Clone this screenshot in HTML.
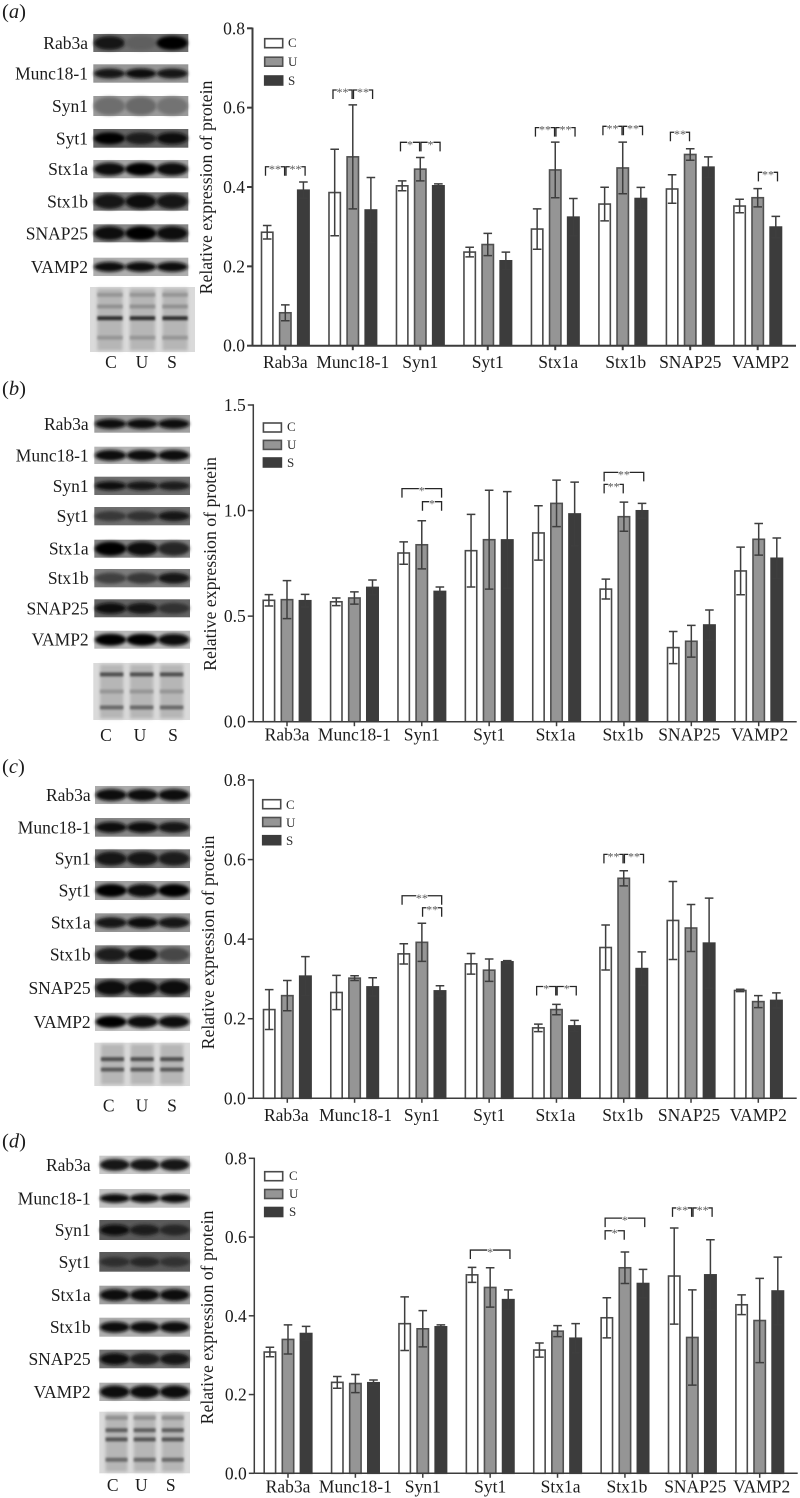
<!DOCTYPE html>
<html lang="en">
<head>
<meta charset="utf-8">
<title>Relative expression of synaptic proteins</title>
<style>
  html, body { margin: 0; padding: 0; background: #fff; }
  #figure { display: block; filter: blur(0.3px); }
  text { font-family: "Liberation Serif", serif; fill: #1c1c1c; }
  .lbl { font-size: 17.5px; }
  .ttl { font-size: 17.8px; }
  .let { font-size: 20.5px; }
  .lg { font-size: 13px; fill: #2c2c2c; }
  .c { fill: #fff; stroke: #4a4a4a; stroke-width: 1.6; }
  .u { fill: #959595; stroke: #505050; stroke-width: 1.6; }
  .s { fill: #3c3c3c; stroke: #3c3c3c; stroke-width: 1.6; }
</style>
</head>
<body>
<svg id="figure" xmlns="http://www.w3.org/2000/svg" width="800" height="1498" viewBox="0 0 800 1498">
  <defs>
    <filter id="band-blur" x="-30%" y="-80%" width="160%" height="260%"><feGaussianBlur stdDeviation="1.5"/></filter>
    <filter id="gel-blur" x="-20%" y="-100%" width="140%" height="300%"><feGaussianBlur stdDeviation="1.1"/></filter>
    <filter id="lane-blur" x="-20%" y="-10%" width="140%" height="120%"><feGaussianBlur stdDeviation="1.6"/></filter>
  </defs>
  <rect width="800" height="1498" fill="#fff"/>

  <g id="panel-a">
    <text class="let" x="2" y="18">(<tspan font-style="italic">a</tspan>)</text>
    <text class="ttl" text-anchor="middle" transform="translate(212 187.5) rotate(-90)">Relative expression of protein</text>
    <rect class="c" x="264.7" y="38.7" width="18" height="9"/>
    <text class="lg" x="288" y="47">C</text>
    <rect class="u" x="264.7" y="57.2" width="18" height="9"/>
    <text class="lg" x="288" y="66">U</text>
    <rect class="s" x="264.7" y="76" width="18" height="9"/>
    <text class="lg" x="288" y="85">S</text>
  </g>

  <g id="panel-b">
    <text class="let" x="2" y="395">(<tspan font-style="italic">b</tspan>)</text>
    <text class="ttl" text-anchor="middle" transform="translate(216 564) rotate(-90)">Relative expression of protein</text>
    <rect class="c" x="263.4" y="423" width="18" height="9"/>
    <text class="lg" x="287" y="431">C</text>
    <rect class="u" x="263.4" y="440.4" width="18" height="9"/>
    <text class="lg" x="287" y="449">U</text>
    <rect class="s" x="263.4" y="458" width="18" height="9"/>
    <text class="lg" x="287" y="467">S</text>
  </g>

  <g id="panel-c">
    <text class="let" x="2" y="773">(<tspan font-style="italic">c</tspan>)</text>
    <text class="ttl" text-anchor="middle" transform="translate(214 942.5) rotate(-90)">Relative expression of protein</text>
    <rect class="c" x="262.7" y="799.7" width="18" height="9"/>
    <text class="lg" x="286" y="809">C</text>
    <rect class="u" x="262.7" y="817.5" width="18" height="9"/>
    <text class="lg" x="286" y="827">U</text>
    <rect class="s" x="262.7" y="835.7" width="18" height="9"/>
    <text class="lg" x="286" y="845">S</text>
  </g>

  <g id="panel-d">
    <text class="let" x="2" y="1147.7">(<tspan font-style="italic">d</tspan>)</text>
    <text class="ttl" text-anchor="middle" transform="translate(213 1317.5) rotate(-90)">Relative expression of protein</text>
    <rect class="c" x="264.7" y="1171.7" width="18" height="9"/>
    <text class="lg" x="289" y="1180">C</text>
    <rect class="u" x="264.7" y="1189.5" width="18" height="9"/>
    <text class="lg" x="289" y="1198">U</text>
    <rect class="s" x="264.7" y="1207.5" width="18" height="9"/>
    <text class="lg" x="289" y="1216">S</text>
  </g>
</svg>

<script>
// ---- shared labels ----
const categories = ['Rab3a', 'Munc18-1', 'Syn1', 'Syt1', 'Stx1a', 'Stx1b', 'SNAP25', 'VAMP2'];
const seriesNames = ['C', 'U', 'S'];
const laneLabels = ['C', 'U', 'S'];
const tickLabelsA = ['0.0', '0.2', '0.4', '0.6', '0.8'];
const tickLabelsB = ['0.0', '0.5', '1.0', '1.5'];
const tickLabelsC = ['0.0', '0.2', '0.4', '0.6', '0.8'];
const tickLabelsD = ['0.0', '0.2', '0.4', '0.6', '0.8'];

// ---- panel a ----
const aControl  = [0.286, 0.386, 0.403, 0.236, 0.294, 0.357, 0.395, 0.352];
const aControlE = [0.017, 0.109, 0.0125, 0.012, 0.051, 0.0425, 0.036, 0.017];
const aUltra    = [0.083, 0.476, 0.445, 0.255, 0.443, 0.448, 0.482, 0.373];
const aUltraE   = [0.020, 0.131, 0.0295, 0.028, 0.070, 0.065, 0.0145, 0.023];
const aStim     = [0.392, 0.342, 0.403, 0.214, 0.324, 0.371, 0.450, 0.299];
const aStimE    = [0.0205, 0.082, 0.005, 0.022, 0.047, 0.028, 0.026, 0.027];
const aBrackets = [[0,0,1,0.451,'**'],[0,1,2,0.451,'**'],[1,0,1,0.6445,'**'],[1,1,2,0.6445,'**'],
  [2,0,1,0.5126,'*'],[2,1,2,0.5126,'*'],[4,0,1,0.5496,'**'],[4,1,2,0.5496,'**'],
  [5,0,1,0.553,'**'],[5,1,2,0.553,'**'],[6,0,1,0.538,'**'],[7,1,2,0.437,'**']];

// ---- panel b ----
const bControl  = [0.575, 0.568, 0.799, 0.810, 0.894, 0.628, 0.351, 0.714];
const bControlE = [0.027, 0.018, 0.053, 0.172, 0.129, 0.047, 0.076, 0.113];
const bUltra    = [0.578, 0.586, 0.838, 0.862, 1.034, 0.971, 0.381, 0.864];
const bUltraE   = [0.090, 0.029, 0.114, 0.234, 0.110, 0.069, 0.075, 0.075];
const bStim     = [0.573, 0.636, 0.617, 0.861, 0.984, 0.999, 0.458, 0.774];
const bStimE    = [0.030, 0.035, 0.021, 0.229, 0.151, 0.035, 0.071, 0.096];
const bBrackets = [[2,0,2,1.104,'*'],[2,1,2,1.042,'*'],[5,0,2,1.181,'**'],[5,0,1,1.124,'**']];

// ---- panel c ----
const cControl  = [0.223, 0.266, 0.363, 0.338, 0.177, 0.379, 0.447, 0.271];
const cControlE = [0.050, 0.043, 0.0255, 0.026, 0.0095, 0.0565, 0.098, 0.003];
const cUltra    = [0.258, 0.302, 0.392, 0.322, 0.223, 0.553, 0.428, 0.243];
const cUltraE   = [0.038, 0.006, 0.048, 0.028, 0.013, 0.019, 0.059, 0.015];
const cStim     = [0.307, 0.280, 0.270, 0.343, 0.182, 0.326, 0.390, 0.246];
const cStimE    = [0.049, 0.023, 0.013, 0.003, 0.014, 0.042, 0.113, 0.019];
const cBrackets = [[2,0,2,0.509,'**'],[2,1,2,0.479,'**'],[4,0,1,0.281,'*'],[4,1,2,0.281,'*'],
  [5,0,1,0.613,'**'],[5,1,2,0.613,'**']];

// ---- panel d ----
const dControl  = [0.308, 0.231, 0.380, 0.504, 0.313, 0.395, 0.501, 0.428];
const dControlE = [0.012, 0.015, 0.068, 0.019, 0.018, 0.051, 0.122, 0.025];
const dUltra    = [0.340, 0.228, 0.367, 0.472, 0.361, 0.522, 0.345, 0.388];
const dUltraE   = [0.037, 0.023, 0.046, 0.050, 0.014, 0.040, 0.121, 0.107];
const dStim     = [0.355, 0.230, 0.372, 0.441, 0.343, 0.482, 0.504, 0.463];
const dStimE    = [0.018, 0.007, 0.005, 0.025, 0.037, 0.036, 0.089, 0.086];
const dBrackets = [[3,0,2,0.567,'*'],[5,0,2,0.648,'*'],[5,0,1,0.616,'*'],[6,0,1,0.674,'**'],[6,1,2,0.674,'**']];

// ---- blot appearance: background gray, lane band grays, band thickness ----
const aBlotTones = [[110,25,95,5,14],[150,20,10,20,10],[155,110,105,115,18],[100,5,30,15,12],[165,10,5,10,13],[125,20,10,20,15],[135,10,5,10,14],[175,8,8,12,10]];
const bBlotTones = [[160,8,12,8,10],[180,12,12,12,11],[110,15,20,30,9],[110,55,50,25,10],[130,5,10,40,14],[125,65,55,25,11],[100,8,25,50,11],[185,5,5,8,12]];
const cBlotTones = [[170,8,8,12,12],[135,12,8,18,11],[120,25,20,28,14],[160,5,8,5,13],[150,18,8,18,11],[135,30,8,70,14],[125,15,12,12,15],[195,5,8,8,12]];
const dBlotTones = [[200,20,20,20,12],[195,8,8,8,9],[90,15,30,40,11],[90,45,40,50,10],[160,8,8,8,12],[175,8,8,8,11],[115,8,30,25,12],[175,8,8,8,13]];
const aGelBands = [[0.12,150],[0.3,145],[0.48,45],[0.78,150]];
const bGelBands = [[0.2,80],[0.5,150],[0.78,105]];
const cGelBands = [[0.38,80],[0.62,90]];
const dGelBands = [[0.1,145],[0.3,95],[0.45,85],[0.78,105]];

// ---- layout (not data) ----
const panels = [
  { id:'a', series:[aControl,aUltra,aStim], errors:[aControlE,aUltraE,aStimE], brackets:aBrackets, ticks:tickLabelsA, tones:aBlotTones, gel:aGelBands,
    axisX:252.5, y0:345.7, yTop:28.3, right:796, firstU:285.3, lastU:757.7, axisW:2, xBase:368, nudge:[0,0,0,0,3,3,0,3],
    blotL:93.3, blotR:188.3, labelR:88, rows:[[34,52],[64.3,82.7],[96,116],[129,147.7],[160,178.3],[192.3,210.7],[224.3,242.3],[257.7,276]],
    gelBox:[90,287,105,65], laneX:[111,142,172], laneBase:368 },
  { id:'b', series:[bControl,bUltra,bStim], errors:[bControlE,bUltraE,bStimE], brackets:bBrackets, ticks:tickLabelsB, tones:bBlotTones, gel:bGelBands,
    axisX:253.3, y0:721.7, yTop:405, right:796.7, firstU:287, lastU:758.7, axisW:1.5, xBase:740.7, nudge:[0,0,0,0,-1,-1,-2,1],
    blotL:94.3, blotR:190, labelR:88.7, rows:[[415,432.7],[446.7,464],[476.7,495],[507,525.3],[539.7,557.7],[569,587.3],[599.3,617.3],[630.7,648.7]],
    gelBox:[93.3,663,96.7,57], laneX:[106,140,173], laneBase:741 },
  { id:'c', series:[cControl,cUltra,cStim], errors:[cControlE,cUltraE,cStimE], brackets:cBrackets, ticks:tickLabelsC, tones:cBlotTones, gel:cGelBands,
    axisX:253.3, y0:1098.3, yTop:780, right:796.7, firstU:287.3, lastU:758.3, axisW:1.5, xBase:1121, nudge:[-1,1,0,0,-1,-1,-2,0],
    blotL:95, blotR:190, labelR:90.7, rows:[[786,804],[818,836.7],[849.3,868],[881,900],[913.3,932],[945.3,964],[978.3,997.3],[1012.7,1031]],
    gelBox:[94.3,1042.7,95.7,43.3], laneX:[108.7,142,172], laneBase:1111.7 },
  { id:'d', series:[dControl,dUltra,dStim], errors:[dControlE,dUltraE,dStimE], brackets:dBrackets, ticks:tickLabelsD, tones:dBlotTones, gel:dGelBands,
    axisX:254.3, y0:1473.3, yTop:1158.3, right:797.7, firstU:288, lastU:759.7, axisW:1.5, xBase:1492.7, nudge:[0,0,0,0,3,2,3,2],
    blotL:99.3, blotR:190, labelR:90.7, rows:[[1155.7,1174],[1189,1207.7],[1220,1240],[1252,1271.7],[1285.7,1304.3],[1317.7,1336.7],[1349.7,1368.3],[1382.7,1401]],
    gelBox:[99.3,1411.7,90.7,61.6], laneX:[112.7,141.3,170.7], laneBase:1491 }
];

const NS = 'http://www.w3.org/2000/svg';
function add(tag, attrs, parent, content) {
  const el = document.createElementNS(NS, tag);
  for (const k in attrs) el.setAttribute(k, attrs[k]);
  if (content !== undefined) el.textContent = content;
  parent.appendChild(el);
  return el;
}
function gray(v) { return 'rgb(' + v + ',' + v + ',' + v + ')'; }

const GAP = 18.1, BAR_W = 11.4, CAP = 4.3, INK = '#3e3e3e';
const classes = ['c', 'u', 's'];

panels.forEach(function (p) {
  const root = document.getElementById('panel-' + p.id);
  const step = (p.lastU - p.firstU) / (categories.length - 1);
  const maxV = parseFloat(p.ticks[p.ticks.length - 1]);
  const yScale = function (v) { return p.y0 - (v / maxV) * (p.y0 - p.yTop); };
  const xGroup = function (g) { return p.firstU + g * step; };
  const xBar = function (g, s) { return xGroup(g) + (s - 1) * GAP; };

  // Blot strips
  const bw = p.blotR - p.blotL;
  categories.forEach(function (cat, r) {
    const top = p.rows[r][0], bot = p.rows[r][1], tone = p.tones[r];
    const bg = add('rect', { x: p.blotL, y: top, width: bw, height: bot - top, fill: gray(tone[0]) }, root);
    
    
    [0, 1, 2].forEach(function (lane) {
      const band = add('ellipse', { cx: p.blotL + bw * (0.17 + lane * 0.33), cy: (top + bot) / 2, rx: bw * 0.165, ry: tone[4] / 2, fill: gray(tone[lane + 1]), filter: 'url(#band-blur)' }, root);
      
      
    });
    const lab = add('text', { x: p.labelR, y: (top + bot) / 2 + 6, 'text-anchor': 'end', class: 'lbl' }, root, cat);
    
    
  });

  // Loading-control gel
  const gb = p.gelBox;
  const gelBg = add('rect', { x: gb[0], y: gb[1], width: gb[2], height: gb[3], fill: gray(218) }, root);
  
  
  [0, 1, 2].forEach(function (lane) {
    const lx = gb[0] + gb[2] * (0.07 + lane * 0.31);
    const lw = gb[2] * 0.24;
    const ln = add('rect', { x: lx, y: gb[1] + 1.5, width: lw, height: gb[3] - 3, fill: gray(182), filter: 'url(#lane-blur)' }, root);
    
    
    p.gel.forEach(function (b, bi) {
      const gbEl = add('rect', { x: lx, y: gb[1] + gb[3] * b[0] - 2, width: lw, height: 4, fill: gray(b[1]), filter: 'url(#gel-blur)' }, root);
      
      
    });
    const ll = add('text', { x: p.laneX[lane], y: p.laneBase, 'text-anchor': 'middle', class: 'lbl' }, root, laneLabels[lane]);
    
    
  });

  // Bars and error bars
  categories.forEach(function (cat, g) {
    seriesNames.forEach(function (name, s) {
      const v = p.series[s][g], e = p.errors[s][g], cx = xBar(g, s);
      const bar = add('rect', { x: cx - BAR_W / 2, y: yScale(v), width: BAR_W, height: p.y0 - yScale(v), class: classes[s] }, root);
      
      
      const hi = yScale(v + e), lo = yScale(v - e);
      const errEl = add('path', { d: 'M' + (cx - CAP) + ' ' + hi + 'H' + (cx + CAP) + 'M' + cx + ' ' + hi + 'V' + lo + 'M' + (cx - CAP) + ' ' + lo + 'H' + (cx + CAP), fill: 'none', stroke: INK, 'stroke-width': 1.5 }, root);
      
      
    });
    const xt = add('line', { x1: xGroup(g), x2: xGroup(g), y1: p.y0, y2: p.y0 + 4.5, stroke: '#3c3c3c', 'stroke-width': p.axisW }, root);
    
    
    const xl = add('text', { x: xGroup(g) + p.nudge[g], y: p.xBase, 'text-anchor': 'middle', class: 'lbl' }, root, cat);
    
    
  });

  // Axes
  const yAxis = add('line', { x1: p.axisX, x2: p.axisX, y1: p.yTop - 0.7, y2: p.y0, stroke: '#3c3c3c', 'stroke-width': p.axisW }, root);
  
  
  const xAxis = add('line', { x1: p.axisX, x2: p.right, y1: p.y0, y2: p.y0, stroke: '#3c3c3c', 'stroke-width': p.axisW }, root);
  
  
  p.ticks.forEach(function (t) {
    const ty = yScale(parseFloat(t));
    const tk = add('line', { x1: p.axisX - 5.5, x2: p.axisX, y1: ty, y2: ty, stroke: '#3c3c3c', 'stroke-width': p.axisW }, root);
    
    
    const tl = add('text', { x: p.axisX - 7.5, y: ty + 6, 'text-anchor': 'end', class: 'lbl' }, root, t);
    
    
  });

  // Significance brackets
  p.brackets.forEach(function (b, i) {
    const x1 = xBar(b[0], b[1]) + (b[1] === 0 ? -1.7 : 0.7);
    const x2 = xBar(b[0], b[2]) + (b[2] === 2 ? 1.7 : -0.7);
    const by = yScale(b[3]);
    const mid = (x1 + x2) / 2;
    const half = b[4].length * 2.9;
    const br = add('path', { d: 'M' + x1 + ' ' + (by + 9) + 'V' + by + 'H' + (mid - half) + 'M' + (mid + half) + ' ' + by + 'H' + x2 + 'V' + (by + 9), fill: 'none', stroke: '#262626', 'stroke-width': 1.3 }, root);
    
    
    const st = add('text', { x: mid, y: by + 6, 'text-anchor': 'middle', 'font-size': 12, style: 'fill:#555' }, root, b[4]);
    
    
  });
});
</script>
</body>
</html>
